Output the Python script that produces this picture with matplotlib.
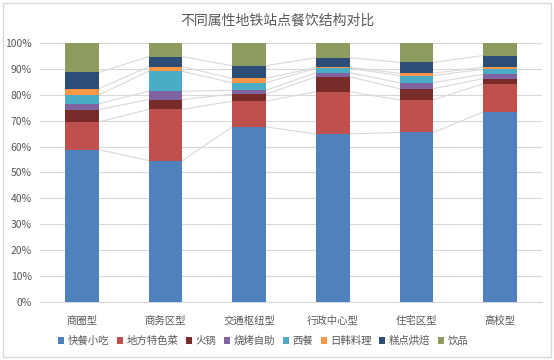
import numpy as np
import matplotlib
matplotlib.use("Agg")
import matplotlib.pyplot as plt
from matplotlib.patches import Rectangle

plt.rcParams["font.family"] = ["Noto Sans CJK SC", "DejaVu Sans"]

categories = ["商圈型", "商务区型", "交通枢纽型", "行政中心型", "住宅区型", "高校型"]
series = ["快餐小吃", "地方特色菜", "火锅", "烧烤自助", "西餐", "日韩料理", "糕点烘焙", "饮品"]
colors = ["#4F81BD", "#C0504D", "#772C2A", "#8064A2", "#4BACC6", "#F79646", "#2C4D75", "#8D9B5F"]

# share of each category (%)
kuaican = [58.8, 54.6, 67.6, 64.9, 65.5, 73.4]
difang = [10.7, 19.8, 10.0, 16.3, 12.6, 10.9]
huoguo = [4.8, 3.8, 2.7, 5.8, 4.3, 2.0]
shaokao = [2.3, 3.2, 1.5, 1.6, 2.3, 1.7]
xican = [3.4, 7.7, 2.9, 1.7, 2.8, 1.9]
rihan = [2.4, 1.8, 1.7, 0.3, 0.9, 0.8]
gaodian = [6.3, 3.9, 4.9, 3.8, 4.2, 4.5]
yinpin = [11.3, 5.2, 8.7, 5.6, 7.4, 4.8]

data = np.array([kuaican, difang, huoguo, shaokao, xican, rihan, gaodian, yinpin])
data = data / data.sum(axis=0) * 100

TXT = "#595959"
fig = plt.figure(figsize=(5.54, 3.60), dpi=100)
fig.patches.append(Rectangle((0.006, 0.008), 0.988, 0.984, transform=fig.transFigure,
                             fill=False, edgecolor="#D9D9D9", lw=1))
ax = fig.add_axes([0.0722, 0.162, 0.906, 0.718])

x = np.arange(len(categories))
w = 0.405
bottom = np.zeros(len(categories))
for name, vals, c in zip(series, data, colors):
    ax.bar(x, vals, w, bottom=bottom, color=c, label=name, zorder=3)
    top = bottom + vals
    # series lines between neighbouring bars
    for i in range(len(categories) - 1):
        ax.plot([x[i] + w / 2, x[i + 1] - w / 2], [top[i], top[i + 1]],
                color="#D9D9D9", lw=0.8, zorder=2)
    bottom = top

ax.set_xlim(-0.5, len(categories) - 0.5)
ax.set_ylim(0, 100)
ax.set_yticks(np.arange(0, 101, 10))
ax.set_yticklabels([f"{v}%" for v in range(0, 101, 10)])
ax.set_xticks(x)
ax.set_xticklabels(categories)
ax.yaxis.grid(True, color="#D9D9D9", lw=0.8, zorder=0)
ax.set_axisbelow(True)
for s in ["top", "right", "left"]:
    ax.spines[s].set_visible(False)
ax.spines["bottom"].set_color("#D9D9D9")
ax.tick_params(axis="both", length=0, colors=TXT, labelsize=7.5)
ax.tick_params(axis="x", pad=10)
ax.tick_params(axis="y", pad=6)

fig.text(0.5, 0.944, "不同属性地铁站点餐饮结构对比", ha="center", va="center",
         fontsize=10, color=TXT)

fig.legend(loc="center", bbox_to_anchor=(0.475, 0.053), ncol=8, frameon=False,
           fontsize=7.5, handlelength=0.6, handleheight=0.6, handletextpad=0.3,
           columnspacing=0.75, labelcolor=TXT)

fig.savefig("out.png", dpi=100)
